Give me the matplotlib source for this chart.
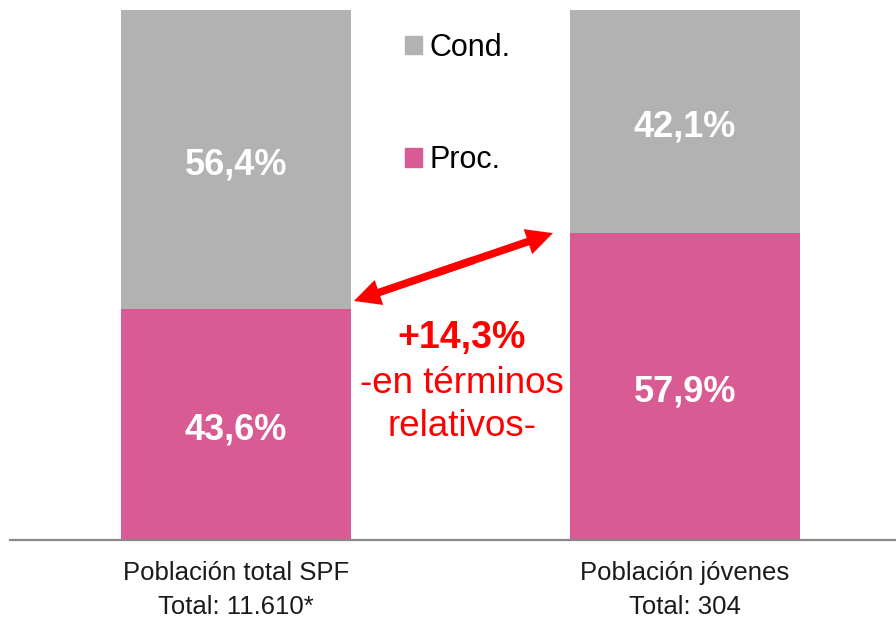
import matplotlib.pyplot as plt
from matplotlib.patches import Patch

plt.rcParams['font.family'] = ['Liberation Sans', 'DejaVu Sans']

# datos
categorias = ['Población total SPF', 'Población jóvenes']
totales = ['Total: 11.610*', 'Total: 304']
proc = [43.6, 57.9]
cond = [56.4, 42.1]
diferencia = '+14,3%'

gris = '#B2B2B2'
rosa = '#D95B93'
rojo = '#FF0000'

fig = plt.figure(figsize=(8.96, 6.2), dpi=100)
ax = fig.add_axes([10 / 896, 80 / 620, 886 / 896, 530 / 620])

x = [0, 1]
ancho = 0.512
ax.bar(x, proc, width=ancho, color=rosa, zorder=2)
ax.bar(x, cond, width=ancho, bottom=proc, color=gris, zorder=2)

# etiquetas dentro de las barras
for i in range(2):
    ax.text(x[i], proc[i] / 2 - 1, f'{proc[i]:.1f}%'.replace('.', ','),
            ha='center', va='center', color='white', fontsize=26, fontweight='bold')
    ax.text(x[i], proc[i] + cond[i] / 2 - 1, f'{cond[i]:.1f}%'.replace('.', ','),
            ha='center', va='center', color='white', fontsize=26, fontweight='bold')

ax.set_xlim(-0.503, 1.47)
ax.set_ylim(0, 100)

# flecha doble entre las dos barras (dos flechas solapadas en el centro)
p1 = (x[0] + ancho / 2 + 0.007, proc[0] + 1.5)
p2 = (x[1] - ancho / 2 - 0.038, proc[1])
for punta, otra in ((p1, p2), (p2, p1)):
    cola = (punta[0] + 0.6 * (otra[0] - punta[0]), punta[1] + 0.6 * (otra[1] - punta[1]))
    ax.annotate('', xy=punta, xytext=cola,
                arrowprops=dict(width=5.5, headwidth=19, headlength=19,
                                color=rojo, lw=0, shrink=0))

ax.text(0.503, 38.2, diferencia, ha='center', va='center', color=rojo,
        fontsize=27, fontweight='bold')
ax.text(0.503, 29.5, '-en términos', ha='center', va='center', color=rojo, fontsize=26.5)
ax.text(0.503, 21.4, 'relativos-', ha='center', va='center', color=rojo, fontsize=26.5)

# categorías bajo el eje
for i in range(2):
    ax.annotate(categorias[i], xy=(x[i], 0), xytext=(0, -24), textcoords='offset points',
                ha='center', va='center', fontsize=18.5, color='#1a1a1a')
    ax.annotate(totales[i], xy=(x[i], 0), xytext=(0, -48), textcoords='offset points',
                ha='center', va='center', fontsize=18.5, color='#1a1a1a')

for s in ['top', 'right', 'left']:
    ax.spines[s].set_visible(False)
ax.spines['bottom'].set_color('#888888')
ax.spines['bottom'].set_linewidth(1.6)
ax.set_xticks([])
ax.set_yticks([])

handles = [Patch(color=gris, label='Cond.'), Patch(color=rosa, label='Proc.')]
fig.legend(handles=handles, loc='upper left', bbox_to_anchor=(405 / 896, 1 - 33 / 620),
           frameon=False, fontsize=22, labelspacing=2.7, handlelength=0.55,
           handleheight=0.55, handletextpad=0.25, borderaxespad=0, borderpad=0)

plt.savefig('out.png', dpi=100)
